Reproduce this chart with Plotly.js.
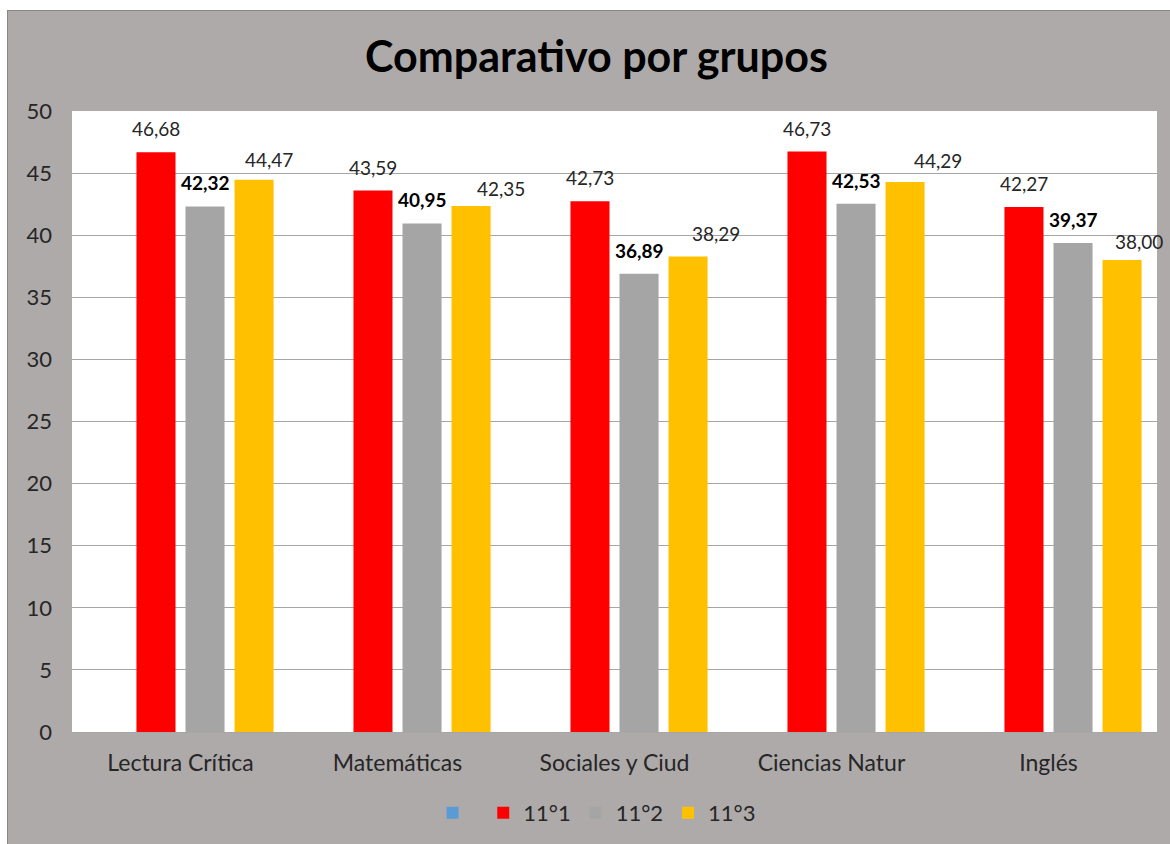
<!DOCTYPE html>
<html>
<head>
<meta charset="utf-8">
<script src="https://cdn.plot.ly/plotly-3.0.1.min.js"></script>
<style>
  html, body { margin: 0; padding: 0; background: #ffffff; width: 1170px; height: 844px; overflow: hidden; }
  #chart { position: absolute; left: 7px; top: 10px; width: 1163px; height: 834px;
           border-left: 1px solid #8a8787; border-top: 1px solid #8a8787; box-sizing: border-box; }
</style>
</head>
<body>
<div id="chart"></div>
<script>
const categories = ["Lectura Crítica", "Matemáticas", "Sociales y Ciud", "Ciencias Natur", "Inglés"];
const seriesNames = [" ", "11°1", "11°2", "11°3"];
const serieBlank = [null, null, null, null, null];
const serie111 = [46.68, 43.59, 42.73, 46.73, 42.27];
const serie112 = [42.32, 40.95, 36.89, 42.53, 39.37];
const serie113 = [44.47, 42.35, 38.29, 44.29, 38.00];
const yTicks = [0, 5, 10, 15, 20, 25, 30, 35, 40, 45, 50];

// label placement nudges (px) for the 11°3 data labels, as placed in the original
const label113DX = [15, 30, 28, 33, 17];
const label113DY = [6.5, 4.5, 9.5, 7.5, 5.5];

const colors = ["#5B9BD5", "#FF0000", "#A5A5A5", "#FFC000"];
const allSeries = [serieBlank, serie111, serie112, serie113];
const FONT = "Lato, 'Open Sans', sans-serif";

const traces = allSeries.map((vals, i) => ({
  type: "bar",
  name: seriesNames[i],
  x: categories,
  y: vals,
  marker: { color: colors[i] },
  hoverinfo: "skip",
  showlegend: true
}));

function fmt(v) { return v.toFixed(2).replace(".", ","); }

const slotPx = 49;
const annotations = [];
[1, 2, 3].forEach(si => {
  allSeries[si].forEach((v, ci) => {
    annotations.push({
      x: categories[ci], y: v, xref: "x", yref: "y",
      text: si === 2 ? "<b>" + fmt(v) + "</b>" : fmt(v),
      showarrow: false,
      xshift: (si - 1.5) * slotPx + (si === 3 ? label113DX[ci] : 0),
      yshift: si === 3 ? label113DY[ci] : 10,
      yanchor: "bottom",
      font: { family: FONT, size: 19, color: si === 2 ? "#000000" : "#262626" }
    });
  });
});

const layout = {
  width: 1163, height: 834,
  paper_bgcolor: "#AEAAAA",
  plot_bgcolor: "#FFFFFF",
  margin: { l: 64, r: 14, t: 100, b: 112 },
  font: { family: FONT, color: "#404040" },
  title: {
    text: "<b>Comparativo por grupos</b>",
    font: { family: FONT, size: 43, color: "#000000" },
    x: 0.506, xanchor: "center",
    y: 1 - 46 / 834, yanchor: "middle", yref: "container"
  },
  barmode: "group",
  bargap: 0.096,
  bargroupgap: 0.204,
  xaxis: {
    type: "category",
    range: [-0.5, categories.length - 0.5],
    autorange: false,
    showgrid: false,
    showline: true, linecolor: "#A6A6A6", linewidth: 1,
    ticks: "",
    tickfont: { family: FONT, size: 23, color: "#262626" },
    ticklabelstandoff: 10,
    fixedrange: true
  },
  yaxis: {
    range: [0, 50],
    autorange: false,
    tickvals: yTicks,
    showgrid: true, gridcolor: "#A6A6A6", gridwidth: 1,
    zeroline: false,
    showline: false,
    ticks: "",
    tickfont: { family: FONT, size: 22, color: "#262626" },
    ticklabelstandoff: 19,
    fixedrange: true
  },
  legend: {
    orientation: "h",
    x: 0.4835, xanchor: "center",
    y: -80 / 622, yanchor: "middle",
    font: { family: FONT, size: 22, color: "#262626" },
    bgcolor: "rgba(0,0,0,0)",
    itemwidth: 30,
    traceorder: "normal"
  },
  annotations: annotations
};

Plotly.newPlot("chart", traces, layout, { displayModeBar: false, staticPlot: true });
</script>
</body>
</html>
